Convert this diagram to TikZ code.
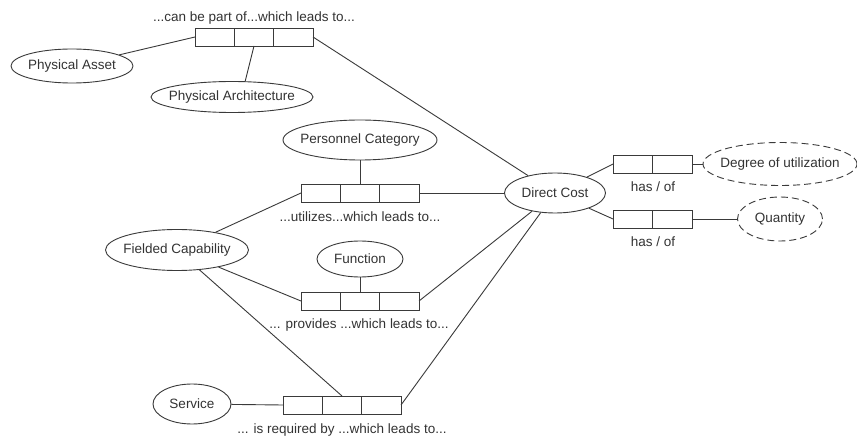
\documentclass[tikz,border=0pt]{standalone}
\usepackage{fontspec}
\setmainfont{Liberation Sans}
\usetikzlibrary{shapes.geometric}
\definecolor{ink}{HTML}{3A3A3A}
\definecolor{txt}{HTML}{333333}

% three adjacent cells of a relation box: name, left edge, vertical centre
\newcommand\relthree[3]{%
  \node[cell] (#1a) at (#2+19.67,#3) {};
  \node[cell] (#1b) at (#2+59,#3) {};
  \node[cell] (#1c) at (#2+98.33,#3) {};}
% two adjacent cells: name, left edge, vertical centre
\newcommand\reltwo[3]{%
  \node[cell] (#1a) at (#2+19.75,#3) {};
  \node[cell] (#1b) at (#2+59.25,#3) {};}

\begin{document}
\begin{tikzpicture}[x=1pt,y=-1pt,
  every node/.style={font=\fontsize{13.5}{16}\selectfont, text=txt},
  conn/.style={draw=ink, line width=0.9pt},
  concept/.style 2 args={ellipse, draw=ink, line width=0.9pt, fill=white,
    inner xsep=-14pt, inner ysep=0pt, minimum width=#1pt, minimum height=#2pt},
  optconcept/.style 2 args={concept={#1}{#2}, dash pattern=on 7pt off 4pt},
  cell/.style={rectangle, draw=ink, line width=0.9pt, fill=white,
    minimum width=39.4pt, minimum height=18pt, inner sep=0pt, outer sep=0pt},
  rolelabel/.style={inner sep=0pt}]
\useasboundingbox[fill=white] (0,0) rectangle (857,438);

% concepts
\node[concept={122}{34}] (passet) at (72,66) {Physical Asset};
\node[concept={162}{31}] (parch) at (232,97) {Physical Architecture};
\node[concept={154}{40}] (pcat) at (360,140) {Personnel Category};
\node[concept={143}{41}] (fcap) at (177,250) {Fielded Capability};
\node[concept={86}{36}] (func) at (360,259) {Function};
\node[concept={78}{40}] (serv) at (192,404) {Service};
\node[concept={101}{40}] (dcost) at (555,193) {Direct Cost};
\node[optconcept={154}{43}] (degree) at (780,164) {Degree of utilization};
\node[optconcept={85}{44}] (qty) at (780,219) {Quantity};

% relation boxes
\relthree{top}{195}{37}
\relthree{util}{301}{193}
\relthree{prov}{301}{301}
\relthree{req}{283}{405}
\reltwo{hasA}{613}{164}
\reltwo{hasB}{613}{219}

% relation labels
\node[rolelabel] (ltop) at (254,18) {...can be part of...which leads to...};
\node[rolelabel] (lutil) at (360,217) {...utilizes...which leads to...};
\node[rolelabel] (lprov) at (359,325) {... provides ...which leads to...};
\node[rolelabel] (lreq) at (342,430) {... is required by ...which leads to...};
\node[rolelabel] (lhasA) at (653,187) {has / of};
\node[rolelabel] (lhasB) at (653,242) {has / of};

% connectors
\draw[conn] (passet) -- (topa.west);
\draw[conn] (topb.south) -- (parch.50);
\draw[conn] (topc.east) -- (dcost);

\draw[conn] (pcat) -- (utilb.north);
\draw[conn] (fcap) -- (utila.west);
\draw[conn] (utilc.east) -- (dcost);

\draw[conn] (func) -- (provb.north);
\draw[conn] (fcap) -- (prova.west);
\draw[conn] (provc.east) -- (dcost);

\draw[conn] (serv) -- (reqa.west);
\draw[conn] (fcap) -- (reqb.north);
\draw[conn] (reqc.east) -- (dcost);

\draw[conn] (dcost) -- (hasAa.west);
\draw[conn] (hasAb.east) -- (degree);
\draw[conn] (dcost) -- (hasBa.west);
\draw[conn] (hasBb.east) -- (qty);
\end{tikzpicture}
\end{document}
